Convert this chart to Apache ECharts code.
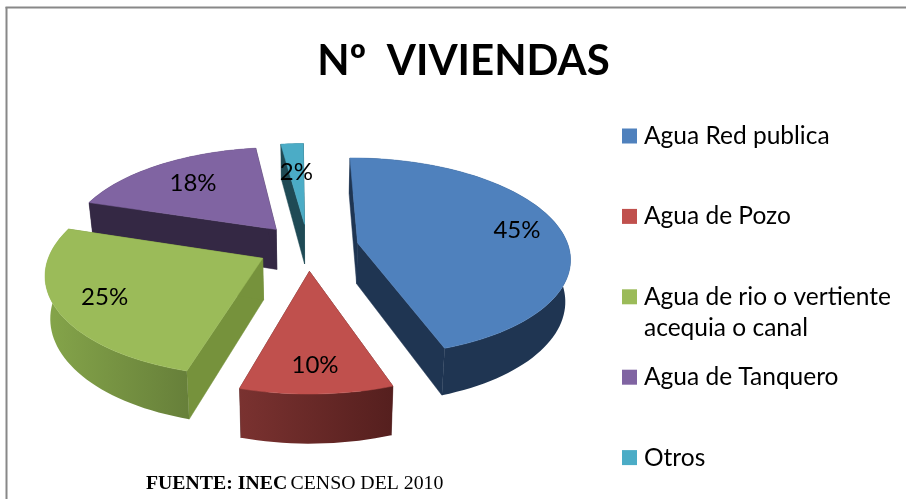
<!DOCTYPE html>
<html>
<head>
<meta charset="utf-8">
<style>html,body{margin:0;padding:0;background:#fff}#c{width:906px;height:499px}</style>
<script src="https://cdn.jsdelivr.net/npm/echarts@6/dist/echarts.min.js"></script>
</head>
<body>
<div id="c"></div>
<script>
const categories = ['Agua Red publica', 'Agua de Pozo', 'Agua de rio o vertiente\nacequia o canal', 'Agua de Tanquero', 'Otros'];
const values = [44.8, 9.8, 25.4, 18, 2];
const colors = ['#4F81BD', '#C0504D', '#9BBB59', '#8064A2', '#4BACC6'];
const cutWallColors = ['#1F3552', '#4F2120', '#76923C', '#342844', '#1F4A55'];
const arcWallStops = [['#1F3552', '#1F3552'], ['#7A3230', '#551F1E'], ['#85A54A', '#67803A'], ['#342844', '#342844'], ['#1F4A55', '#1F4A55']];
const labelRadius = [0.79, 0.79, 0.78, 0.69, 0.62];
const paintOrder = [5, 4, 3, 2, 1];

// view of the tilted pie
const VIEW = { cx: 308, cy: 247, A: 211, B: 98, k: 0.14, depth: 41, explode: 0.24, startDeg: -0.5, wallShrink: 0.98 };

const total = values.reduce((a, b) => a + b, 0);
const bounds = [VIEW.startDeg];
values.forEach(v => bounds.push(bounds[bounds.length - 1] + v / total * 360));

function project(u, v) {
  const p = 1 / (1 - VIEW.k * v);
  return { x: VIEW.cx + VIEW.A * u * p, y: VIEW.cy + VIEW.B * v * p, p };
}
function lower(pt) {
  return [VIEW.cx + (pt.x - VIEW.cx) * VIEW.wallShrink, pt.y + VIEW.depth * pt.p];
}
function sliceItem(i) {
  const rad = d => d * Math.PI / 180;
  const a0 = bounds[i], a1 = bounds[i + 1], mid = rad((a0 + a1) / 2);
  const ou = VIEW.explode * Math.sin(mid), ov = -VIEW.explode * Math.cos(mid);
  const at = (deg, r) => project(ou + r * Math.sin(rad(deg)), ov - r * Math.cos(rad(deg)));
  const apex = project(ou, ov);
  const steps = Math.max(6, Math.ceil((a1 - a0) / 2));
  const arc = [];
  for (let s = 0; s <= steps; s++) arc.push(at(a0 + (a1 - a0) * s / steps, 1));
  const xy = p => [p.x, p.y];
  const poly = (pts, fill) => ({ type: 'polygon', shape: { points: pts }, style: { fill: fill, stroke: fill, lineWidth: 0.5 } });
  const children = [];
  // cut walls
  [arc[0], arc[arc.length - 1]].forEach(e => {
    children.push(poly([xy(apex), xy(e), lower(e), lower(apex)], cutWallColors[i]));
  });
  // outer wall
  const wall = arc.map(xy).concat(arc.slice().reverse().map(lower));
  const visibleArc = arc.filter(p => p.y >= apex.y - 40);
  const wx0 = Math.min(...visibleArc.map(p => p.x)), wx1 = Math.max(...visibleArc.map(p => p.x));
  children.push({
    type: 'polygon', shape: { points: wall },
    style: { fill: new echarts.graphic.LinearGradient(wx0, 0, wx1, 0, [
      { offset: 0, color: arcWallStops[i][0] }, { offset: 1, color: arcWallStops[i][1] }
    ], true) }
  });
  // top face
  children.push(poly([xy(apex)].concat(arc.map(xy)), colors[i]));
  // label
  const lp = at((a0 + a1) / 2, labelRadius[i]);
  children.push({
    type: 'text', z2: 10,
    style: { x: lp.x, y: lp.y, text: Math.round(values[i] / total * 100) + '%', font: '24px Lato', fill: '#000', align: 'center', verticalAlign: 'middle' }
  });
  return { type: 'group', children: children };
}

const chart = echarts.init(document.getElementById('c'), null, { renderer: 'canvas' });
chart.setOption({
  animation: false,
  backgroundColor: '#fff',
  title: {
    text: 'Nº  VIVIENDAS', left: 458.5, top: 35, textAlign: 'center',
    textStyle: { fontFamily: 'Lato', fontWeight: 'bold', fontSize: 42, color: '#000' }
  },
  legend: {
    orient: 'vertical', left: 622, top: 122, padding: 0, itemWidth: 15, itemHeight: 15, itemGap: 52.4,
    icon: 'rect',
    data: categories.map(c => ({ name: c })),
    formatter: n => n.split('\n')[0],
    textStyle: { fontFamily: 'Lato', fontSize: 24.5, color: '#000', lineHeight: 28, padding: [0, 0, 0, 2] }
  },
  graphic: [
    { type: 'line', silent: true, shape: { x1: 5.5, y1: 7.5, x2: 906, y2: 7.5 }, style: { stroke: '#888', lineWidth: 2 } },
    { type: 'line', silent: true, shape: { x1: 6.5, y1: 7, x2: 6.5, y2: 499 }, style: { stroke: '#888', lineWidth: 2 } },
    { type: 'text', silent: true, style: { x: 644, y: 328, text: categories[2].split('\n')[1], font: '24.5px Lato', fill: '#000', verticalAlign: 'middle' } },
    { type: 'text', silent: true, style: { x: 146, y: 484,
        text: '{b|FUENTE: INEC} {r|CENSO DEL 2010}', verticalAlign: 'middle',
        rich: { b: { font: 'bold 19.8px "Liberation Serif"', fill: '#000' }, r: { font: '19.8px "Liberation Serif"', fill: '#000' } } } }
  ],
  series: categories.map((name, i) => ({
    type: 'custom', name: name, z: 2 + paintOrder[i], coordinateSystem: 'none',
    itemStyle: { color: colors[i] },
    data: [values[i]],
    renderItem: () => sliceItem(i)
  }))
});
</script>
</body>
</html>
